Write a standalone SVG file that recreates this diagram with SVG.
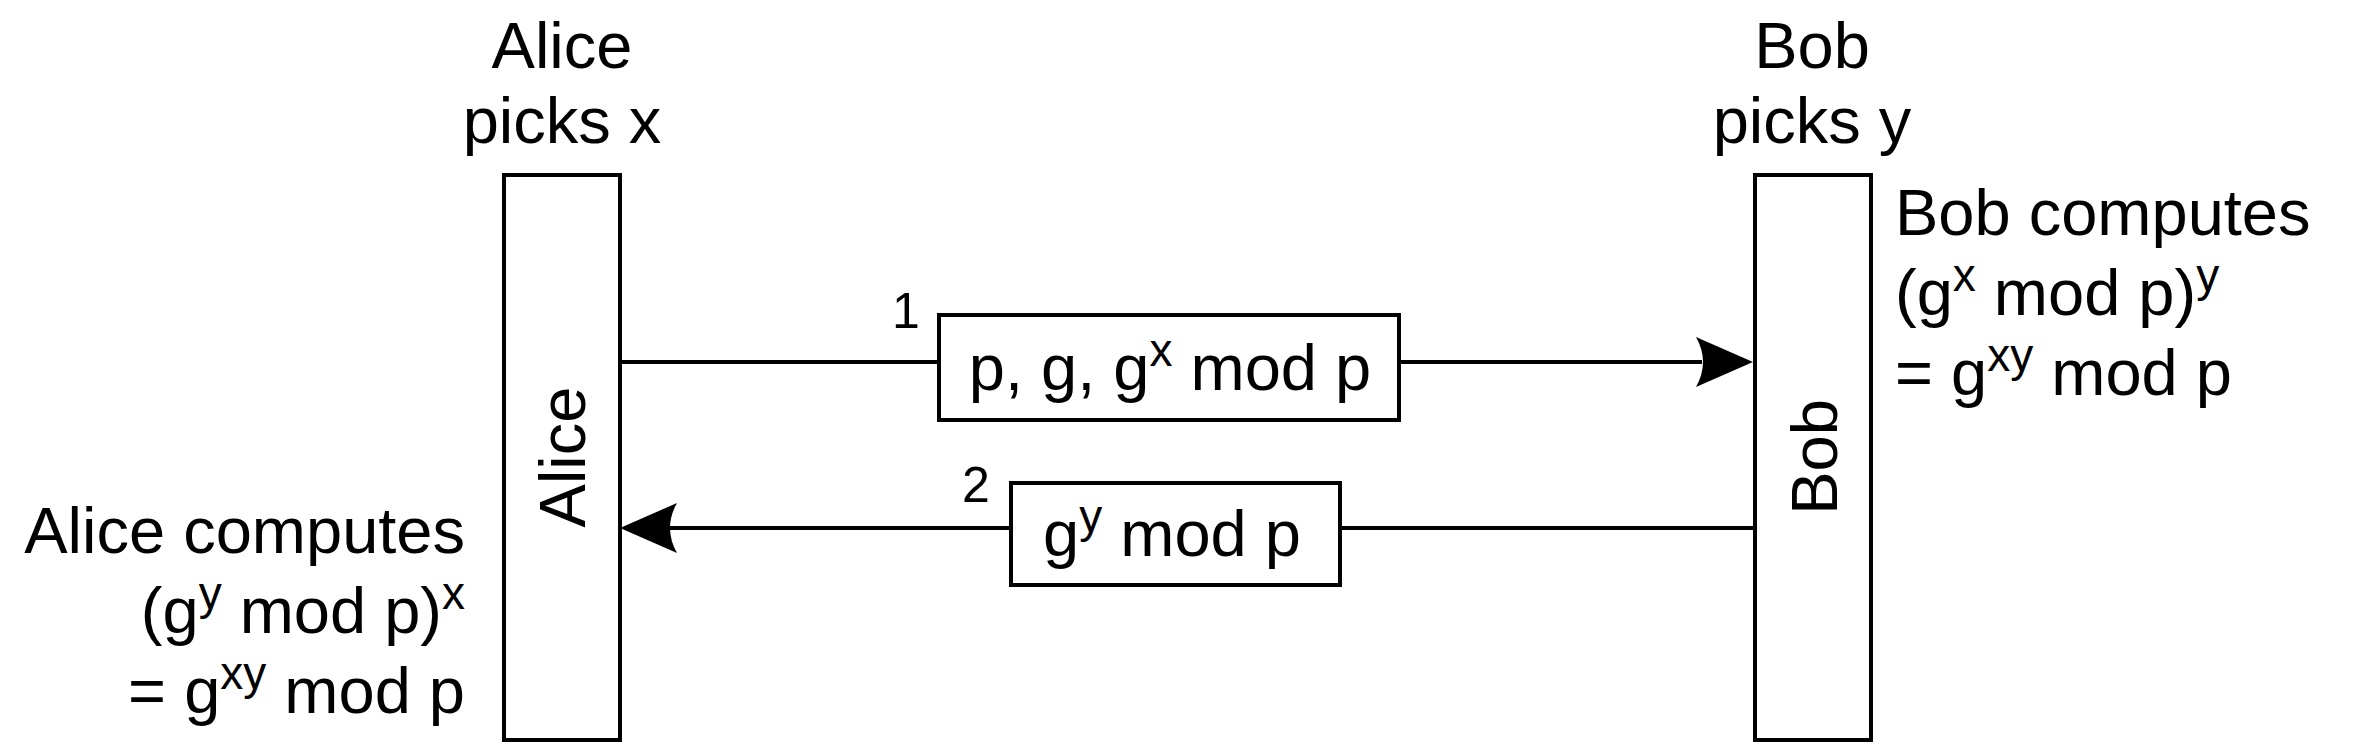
<svg xmlns="http://www.w3.org/2000/svg" width="2375" height="750" viewBox="0 0 2375 750">
<style>
  text { font-family: "Liberation Sans", Arial, Helvetica, sans-serif; fill: #000; }
  .t { font-size: 65px; }
  .n { font-size: 50px; }
  .sup { font-size: 46px; }
  .box { fill: #fff; stroke: #000; stroke-width: 4; }
  .ln { stroke: #000; stroke-width: 4; fill: none; }
  .ah { fill: #000; stroke: none; }
</style>
<rect width="2375" height="750" fill="#fff"/>

<g id="alice">
  <rect class="box" x="504" y="175" width="116" height="565"/>
  <text class="t" transform="translate(585,457) rotate(-90)" text-anchor="middle">Alice</text>
</g>

<g id="bob">
  <rect class="box" x="1755" y="175" width="116" height="565"/>
  <text class="t" transform="translate(1837,457) rotate(-90)" text-anchor="middle">Bob</text>
</g>

<g id="alice-picks">
  <text class="t" x="562" y="68" text-anchor="middle">Alice</text>
  <text class="t" x="562" y="143" text-anchor="middle">picks x</text>
</g>

<g id="bob-picks">
  <text class="t" x="1812" y="68" text-anchor="middle">Bob</text>
  <text class="t" x="1812" y="143" text-anchor="middle">picks y</text>
</g>

<g id="alice-computes">
  <text class="t" x="465" y="553" text-anchor="end">Alice computes</text>
  <text class="t" x="465" y="633" text-anchor="end">(g<tspan class="sup" dy="-24">y</tspan><tspan dy="24"> mod p)</tspan><tspan class="sup" dy="-24">x</tspan></text>
  <text class="t" x="465" y="713" text-anchor="end">= g<tspan class="sup" dy="-24">xy</tspan><tspan dy="24"> mod p</tspan></text>
</g>

<g id="bob-computes">
  <text class="t" x="1895" y="235">Bob computes</text>
  <text class="t" x="1895" y="315">(g<tspan class="sup" dy="-24">x</tspan><tspan dy="24"> mod p)</tspan><tspan class="sup" dy="-24">y</tspan></text>
  <text class="t" x="1895" y="395">= g<tspan class="sup" dy="-24">xy</tspan><tspan dy="24"> mod p</tspan></text>
</g>

<g id="connectors">
  <line class="ln" x1="620" y1="362" x2="939" y2="362"/>
  <line class="ln" x1="1399" y1="362" x2="1702" y2="362"/>
  <path class="ah" d="M1753,362 L1696,337 Q1710,362 1696,387 Z"/>
  <line class="ln" x1="1755" y1="528" x2="1340" y2="528"/>
  <line class="ln" x1="1011" y1="528" x2="670" y2="528"/>
  <path class="ah" d="M620,528 L677,503 Q663,528 677,553 Z"/>
</g>

<g id="msg1">
  <rect class="box" x="939" y="315" width="460" height="105"/>
  <text class="t" x="1170" y="390" text-anchor="middle">p, g, g<tspan class="sup" dy="-24">x</tspan><tspan dy="24"> mod p</tspan></text>
  <text class="n" x="906" y="328" text-anchor="middle">1</text>
</g>

<g id="msg2">
  <rect class="box" x="1011" y="483" width="329" height="102"/>
  <text class="t" x="1172" y="556" text-anchor="middle">g<tspan class="sup" dy="-24">y</tspan><tspan dy="24"> mod p</tspan></text>
  <text class="n" x="976" y="502" text-anchor="middle">2</text>
</g>
</svg>
